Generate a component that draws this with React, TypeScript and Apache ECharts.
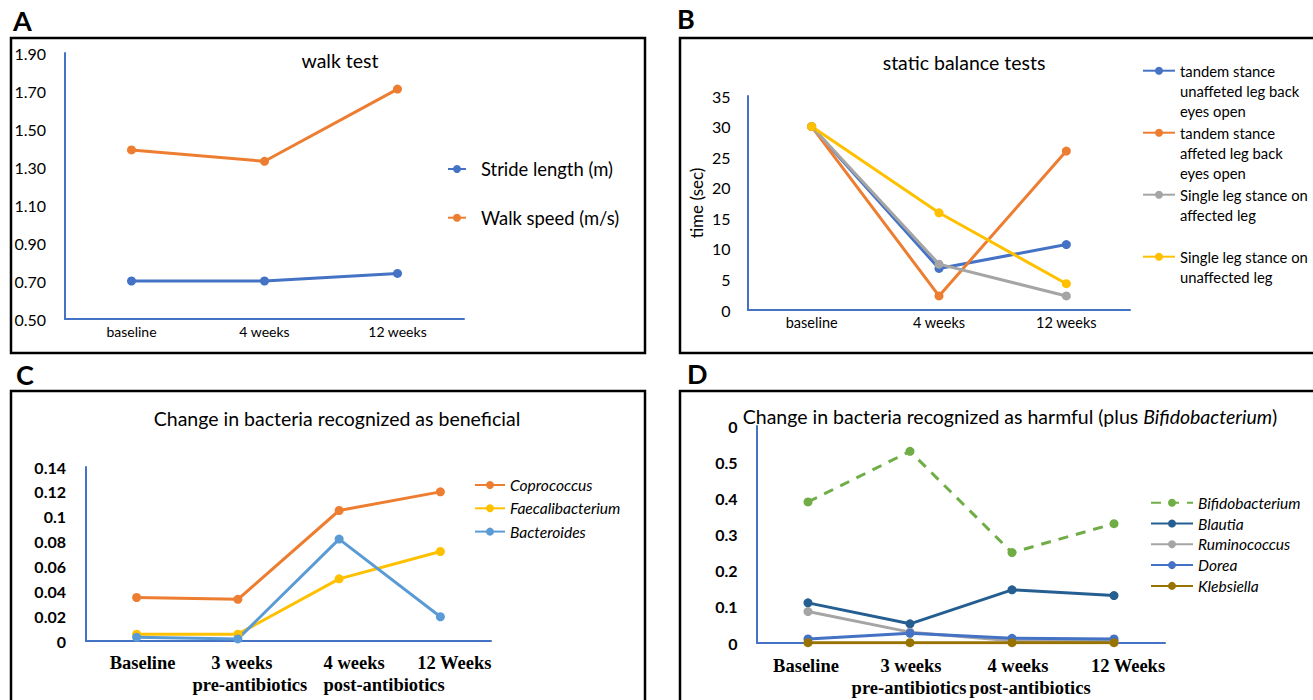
import React, { useEffect, useRef } from 'react';
import * as echarts from 'echarts';

// ---------- Panel A: walk test ----------
const walkCategories = ['baseline', '4 weeks', '12 weeks'];
const strideLength = [0.7, 0.7, 0.74];
const walkSpeed = [1.39, 1.33, 1.71];
const walkTicks = [0.5, 0.7, 0.9, 1.1, 1.3, 1.5, 1.7, 1.9];

// ---------- Panel B: static balance tests ----------
const balanceCategories = ['baseline', '4 weeks', '12 weeks'];
const tandemUnaffected = [30, 6.8, 10.7];
const tandemAffected = [30, 2.3, 26];
const singleAffected = [30, 7.5, 2.3];
const singleUnaffected = [30, 15.9, 4.3];
const balanceNames = [
  'tandem stance unaffeted leg back eyes open',
  'tandem stance affeted leg back eyes open',
  'Single leg stance on affected leg',
  'Single leg stance on unaffected leg',
];
const balanceLegendLines = [
  ['tandem stance', 'unaffeted leg back', 'eyes open'],
  ['tandem stance', 'affeted leg back', 'eyes open'],
  ['Single leg stance on', 'affected leg'],
  ['Single leg stance on', 'unaffected leg'],
];

// ---------- Panel C: beneficial bacteria ----------
const bacteriaCategories = ['Baseline', '3 weeks\npre-antibiotics', '4 weeks\npost-antibiotics', '12 Weeks'];
const coprococcus = [0.035, 0.0335, 0.105, 0.12];
const faecalibacterium = [0.0055, 0.0055, 0.05, 0.072];
const bacteroides = [0.003, 0.0017, 0.082, 0.0195];

// ---------- Panel D: harmful bacteria ----------
const bifidobacterium = [0.39, 0.53, 0.25, 0.33];
const blautia = [0.111, 0.053, 0.147, 0.131];
const ruminococcus = [0.087, 0.03, 0.006, 0.004];
const dorea = [0.011, 0.027, 0.013, 0.011];
const klebsiella = [0.001, 0.001, 0.001, 0.001];
const harmfulTickLabels = ['0', '0.1', '0.2', '0.3', '0.4', '0.5', '0'];

// label fine shifts (px) per category line, to mimic the original layout
const shiftC = [[6], [4, 12], [15, 45], [14]];
const shiftD = [[-2], [1, -1], [6, 18], [14]];

const SANS = 'Lato, "Open Sans", sans-serif';
const SERIF = '"Liberation Serif", "DejaVu Serif", serif';
const AXIS_BLUE = '#4472C4';

function lineSeries(name: string, data: number[], color: string, idx: number, extra: any = {}) {
  return {
    name,
    type: 'line',
    xAxisIndex: idx,
    yAxisIndex: idx,
    data,
    color,
    symbol: 'circle',
    symbolSize: 9,
    lineStyle: { width: 3, color, ...(extra.lineStyle || {}) },
    itemStyle: { color },
    emphasis: { disabled: true },
  };
}

const axisLineStyle = { show: true, lineStyle: { color: AXIS_BLUE, width: 2 } };

function richCategoryAxis(categories: string[], shifts: number[][], idx: number, margin: number) {
  const rich: any = {};
  categories.forEach((c, i) => {
    c.split('\n').forEach((_, j) => {
      const s = (shifts[i] && shifts[i][j]) || 0;
      rich[`s${i}_${j}`] = {
        fontFamily: SERIF,
        fontWeight: 'bold',
        fontSize: 18.5,
        lineHeight: 22,
        color: '#000',
        padding: s >= 0 ? [0, 0, 0, 2 * s] : [0, -2 * s, 0, 0],
      };
    });
  });
  return {
    type: 'category',
    gridIndex: idx,
    data: categories,
    axisLine: axisLineStyle,
    axisTick: { show: false },
    axisLabel: {
      interval: 0,
      margin,
      fontFamily: SERIF,
      fontWeight: 'bold',
      fontSize: 18.5,
      lineHeight: 22,
      color: '#000',
      formatter: (value: string, index: number) =>
        value
          .split('\n')
          .map((line, j) => `{s${index}_${j}|${line}}`)
          .join('\n'),
      rich,
    },
  };
}

export default function App() {
  const ref = useRef<HTMLDivElement>(null);
  useEffect(() => {
    if (!ref.current) return;
    const chart = echarts.init(ref.current, undefined, { renderer: 'svg' });

    const border = (x: number, y: number, w: number, h: number) => ({
      type: 'rect',
      shape: { x, y, width: w, height: h },
      style: { fill: 'none', stroke: '#000', lineWidth: 2.5 },
      silent: true,
    });
    const letter = (t: string, x: number, y: number) => ({
      type: 'text',
      x,
      y,
      style: { text: t, fontFamily: SANS, fontWeight: 'bold', fontSize: 27, fill: '#000', textVerticalAlign: 'middle' },
    });
    const title = (t: string, x: number, y: number) => ({
      type: 'text',
      x,
      y,
      style: { text: t, fontFamily: SANS, fontSize: 19.5, fill: '#000', textAlign: 'center', textVerticalAlign: 'middle' },
    });

    // Legend B text: two blank lines on top so that the first line sits beside the icon,
    // and every item padded to five lines so the spacing is uniform.
    const balanceLegendText = (name: string) => {
      const lines = balanceLegendLines[balanceNames.indexOf(name)].slice();
      while (lines.length < 3) lines.push(' ');
      return ['', '', ...lines].join('\n');
    };

    const option: any = {
      animation: false,
      backgroundColor: '#ffffff',
      graphic: [
        border(11, 38, 634, 315),
        border(680, 38, 645, 315),
        border(11, 391, 634, 330),
        border(680, 391, 645, 330),
        letter('A', 13, 20),
        letter('B', 677, 18),
        letter('C', 16, 374),
        letter('D', 687, 373),
        title('walk test', 340, 60),
        title('static balance tests', 964, 62),
        title('Change in bacteria recognized as beneficial', 337, 418),
        {
          type: 'text',
          x: 1010,
          y: 416,
          style: {
            text: '{n|Change in bacteria recognized as harmful (plus }{i|Bifidobacterium}{n|)}',
            textAlign: 'center',
            textVerticalAlign: 'middle',
            rich: {
              n: { fontFamily: SANS, fontSize: 19.5, fill: '#000' },
              i: { fontFamily: SANS, fontSize: 19.5, fontStyle: 'italic', fill: '#000' },
            },
          },
        },
      ],
      grid: [
        { left: 65, top: 53, width: 399, height: 266 },
        { left: 748, top: 96, width: 382, height: 214 },
        { left: 86, top: 467, width: 405, height: 174 },
        { left: 757, top: 426, width: 408, height: 217 },
      ],
      xAxis: [
        {
          type: 'category',
          gridIndex: 0,
          data: walkCategories,
          axisLine: axisLineStyle,
          axisTick: { show: false },
          axisLabel: { interval: 0, margin: 5, fontFamily: SANS, fontSize: 14, color: '#000' },
        },
        {
          type: 'category',
          gridIndex: 1,
          data: balanceCategories,
          axisLine: axisLineStyle,
          axisTick: { show: false },
          axisLabel: { interval: 0, margin: 5, fontFamily: SANS, fontSize: 14.5, color: '#000' },
        },
        richCategoryAxis(bacteriaCategories, shiftC, 2, 11),
        richCategoryAxis(bacteriaCategories, shiftD, 3, 12),
      ],
      yAxis: [
        {
          type: 'value',
          gridIndex: 0,
          min: 0.5,
          max: 1.9,
          axisLine: axisLineStyle,
          axisTick: { show: false },
          splitLine: { show: false },
          axisLabel: {
            customValues: walkTicks,
            align: 'left',
            margin: 50.5,
            fontFamily: SANS,
            fontSize: 16,
            color: '#000',
            formatter: (v: number) => v.toFixed(2),
          },
        },
        {
          type: 'value',
          gridIndex: 1,
          min: 0,
          max: 35,
          interval: 5,
          name: 'time (sec)',
          nameLocation: 'middle',
          nameGap: 43,
          nameTextStyle: { fontFamily: SANS, fontSize: 17, color: '#000' },
          axisLine: axisLineStyle,
          axisTick: { show: false },
          splitLine: { show: false },
          axisLabel: { margin: 17.5, fontFamily: SANS, fontSize: 16, color: '#000' },
        },
        {
          type: 'value',
          gridIndex: 2,
          min: 0,
          max: 0.14,
          interval: 0.02,
          axisLine: axisLineStyle,
          axisTick: { show: false },
          splitLine: { show: false },
          axisLabel: { margin: 20, fontFamily: SANS, fontWeight: 'bold', fontSize: 16, color: '#000' },
        },
        {
          type: 'value',
          gridIndex: 3,
          min: 0,
          max: 0.6,
          interval: 0.1,
          axisLine: axisLineStyle,
          axisTick: { show: false },
          splitLine: { show: false },
          axisLabel: {
            margin: 19.5,
            fontFamily: SANS,
            fontWeight: 'bold',
            fontSize: 16,
            color: '#000',
            formatter: (_v: number, i: number) => harmfulTickLabels[i],
          },
        },
      ],
      legend: [
        {
          orient: 'vertical',
          left: 447,
          top: 159,
          padding: 0,
          itemGap: 28.7,
          itemWidth: 18,
          itemHeight: 10,
          selectedMode: false,
          data: ['Stride length (m)', 'Walk speed (m/s)'],
          textStyle: { fontFamily: SANS, fontSize: 18.4, lineHeight: 20, color: '#000', padding: [0, 0, 0, 10] },
        },
        {
          orient: 'vertical',
          left: 1142,
          top: 20.7,
          padding: 0,
          itemGap: -38,
          itemWidth: 32,
          itemHeight: 10,
          selectedMode: false,
          data: balanceNames,
          formatter: balanceLegendText,
          textStyle: { fontFamily: SANS, fontSize: 14.8, lineHeight: 20, color: '#000' },
        },
        {
          orient: 'vertical',
          left: 474,
          top: 476,
          padding: 0,
          itemGap: 5.3,
          itemWidth: 30,
          itemHeight: 10,
          selectedMode: false,
          data: ['Coprococcus', 'Faecalibacterium', 'Bacteroides'],
          textStyle: { fontFamily: SANS, fontSize: 15.6, fontStyle: 'italic', lineHeight: 18, color: '#000' },
        },
        {
          orient: 'vertical',
          left: 1150,
          top: 493.7,
          padding: 0,
          itemGap: 2.8,
          itemWidth: 42,
          itemHeight: 10,
          selectedMode: false,
          data: ['Bifidobacterium', 'Blautia', 'Ruminococcus', 'Dorea', 'Klebsiella'],
          textStyle: { fontFamily: SANS, fontSize: 15.5, fontStyle: 'italic', lineHeight: 18, color: '#000' },
        },
      ],
      series: [
        lineSeries('Stride length (m)', strideLength, '#4472C4', 0),
        lineSeries('Walk speed (m/s)', walkSpeed, '#ED7D31', 0),
        lineSeries(balanceNames[0], tandemUnaffected, '#4472C4', 1),
        lineSeries(balanceNames[1], tandemAffected, '#ED7D31', 1),
        lineSeries(balanceNames[2], singleAffected, '#A5A5A5', 1),
        lineSeries(balanceNames[3], singleUnaffected, '#FFC000', 1),
        lineSeries('Coprococcus', coprococcus, '#ED7D31', 2),
        lineSeries('Faecalibacterium', faecalibacterium, '#FFC000', 2),
        lineSeries('Bacteroides', bacteroides, '#5B9BD5', 2),
        lineSeries('Bifidobacterium', bifidobacterium, '#70AD47', 3, { lineStyle: { type: [10, 8] } }),
        lineSeries('Blautia', blautia, '#255E91', 3),
        lineSeries('Ruminococcus', ruminococcus, '#A5A5A5', 3),
        lineSeries('Dorea', dorea, '#4472C4', 3),
        lineSeries('Klebsiella', klebsiella, '#997300', 3),
      ],
    };
    chart.setOption(option);
    return () => chart.dispose();
  }, []);
  return (
    <div
      ref={ref}
      style={{ position: 'fixed', left: 0, top: 0, width: 1313, height: 700, background: '#fff' }}
    />
  );
}
